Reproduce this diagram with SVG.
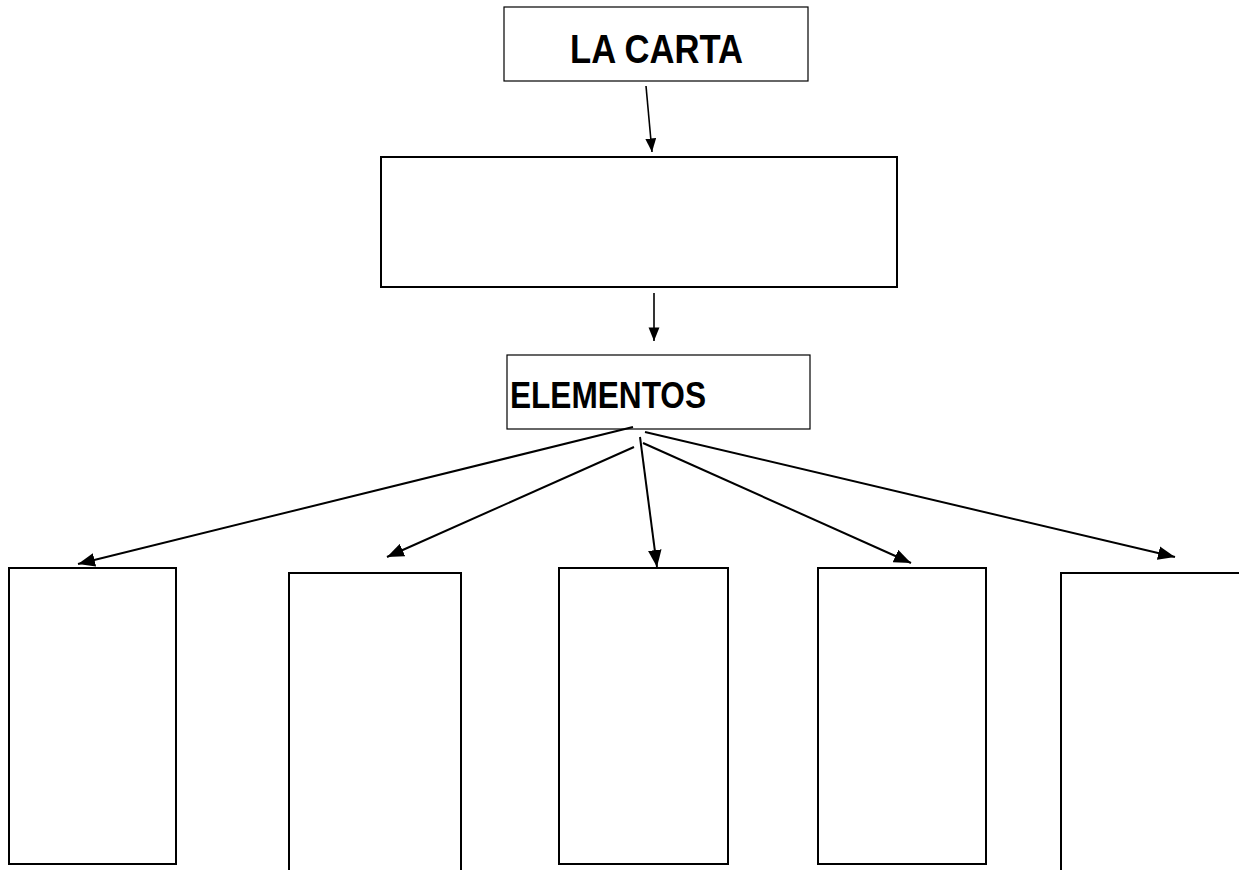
<svg xmlns="http://www.w3.org/2000/svg" width="1239" height="870" viewBox="0 0 1239 870">
<style>
.thin{fill:#fff;stroke:#000;stroke-width:1.2}
.thick{fill:#fff;stroke:#000;stroke-width:2}
.lbl{font-family:"Liberation Sans",Arial,sans-serif;font-weight:bold;fill:#000}
.con{stroke:#000;stroke-width:2;fill:none;marker-end:url(#ah)}
</style>
<defs>
<marker id="ah" viewBox="0 0 10 8" refX="10" refY="4" markerWidth="8.5" markerHeight="7" markerUnits="strokeWidth" orient="auto">
<path d="M0,0 L10,4 L0,8 Z" fill="#000"/>
</marker>
</defs>
<rect width="1239" height="870" fill="#fff"/>
<g id="n-carta">
<rect class="thin" x="504" y="7" width="304" height="74"/>
<text class="lbl" x="570" y="63" font-size="40" textLength="173" lengthAdjust="spacingAndGlyphs">LA CARTA</text>
</g>
<g id="n-middle">
<rect class="thick" x="381" y="157" width="516" height="130"/>
</g>
<g id="n-elementos">
<rect class="thin" x="507" y="355" width="303" height="74"/>
<text class="lbl" x="510" y="408" font-size="36" textLength="196" lengthAdjust="spacingAndGlyphs">ELEMENTOS</text>
</g>
<g id="n-b1"><rect class="thick" x="9" y="568" width="167" height="296"/></g>
<g id="n-b2"><rect class="thick" x="289" y="573" width="172" height="300"/></g>
<g id="n-b3"><rect class="thick" x="559" y="568" width="169" height="296"/></g>
<g id="n-b4"><rect class="thick" x="818" y="568" width="168" height="296"/></g>
<g id="n-b5"><rect class="thick" x="1061" y="573" width="180" height="300"/></g>
<g id="connectors">
<line class="con" x1="646" y1="86" x2="652" y2="152" style="stroke-width:1.6"/>
<line class="con" x1="654" y1="293" x2="654" y2="341" style="stroke-width:1.6"/>
<line class="con" x1="633" y1="427" x2="78" y2="564"/>
<line class="con" x1="634" y1="447" x2="387" y2="557"/>
<line class="con" x1="640" y1="437" x2="657" y2="567"/>
<line class="con" x1="643" y1="443" x2="911" y2="563"/>
<line class="con" x1="645" y1="432" x2="1175" y2="557"/>
</g>
</svg>
